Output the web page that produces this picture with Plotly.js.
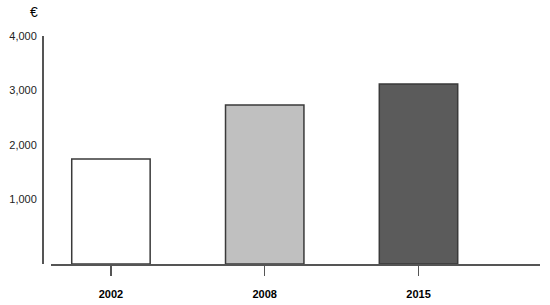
<!DOCTYPE html>
<html>
<head>
<meta charset="utf-8">
<script src="https://cdn.plot.ly/plotly-3.0.1.min.js"></script>
<style>
  html, body { margin: 0; padding: 0; background: #fff; }
  #plot { width: 550px; height: 305px; }
</style>
</head>
<body>
<div id="plot"></div>
<script>
// years and amounts (EUR)
var years = ["2002", "2008", "2015"];
var amounts = [1743, 2734, 3119];
var barColors = ["#ffffff", "#c0c0c0", "#5b5b5b"];
var yTicks = [1000, 2000, 3000, 4000];
var yTickText = ["1,000", "2,000", "3,000", "4,000"];

// the horizontal axis crosses slightly below zero, bars grow from there
var axisMin = -185;

var trace = {
    type: "bar",
    x: years,
    y: amounts.map(function (v) { return v - axisMin; }),
    base: axisMin,
    width: 0.51,
    marker: {
        color: barColors,
        line: { color: "#3a3a3a", width: 1.5 }
    },
    hoverinfo: "skip"
};

var layout = {
    width: 550,
    height: 305,
    margin: { l: 42, r: 10, t: 36, b: 41 },
    paper_bgcolor: "#fff",
    plot_bgcolor: "#fff",
    showlegend: false,
    font: { family: "Liberation Sans, Arial, sans-serif", size: 11, color: "#222" },
    xaxis: {
        type: "category",
        domain: [0.018, 1],
        range: [-0.39, 2.79],
        showline: true,
        linecolor: "#555",
        linewidth: 1.5,
        ticks: "outside",
        ticklen: 10,
        tickwidth: 1.5,
        tickcolor: "#555",
        ticklabelstandoff: 9,
        tickfont: { family: "Liberation Sans, Arial, sans-serif", size: 11, color: "#000", weight: "bold" },
        showgrid: false,
        zeroline: false,
        fixedrange: true
    },
    yaxis: {
        range: [axisMin, 4000],
        anchor: "free",
        position: 0,
        showline: true,
        linecolor: "#555",
        linewidth: 1.5,
        ticks: "",
        tickvals: yTicks,
        ticktext: yTickText,
        ticklabelstandoff: 3,
        tickfont: { size: 11, color: "#222" },
        showgrid: false,
        zeroline: false,
        fixedrange: true
    },
    annotations: [{
        text: "€",
        xref: "paper",
        yref: "paper",
        x: -0.016,
        y: 1.105,
        xanchor: "center",
        yanchor: "middle",
        showarrow: false,
        font: { size: 14, color: "#000" }
    }]
};

Plotly.newPlot("plot", [trace], layout, { displayModeBar: false, staticPlot: true });
</script>
</body>
</html>
